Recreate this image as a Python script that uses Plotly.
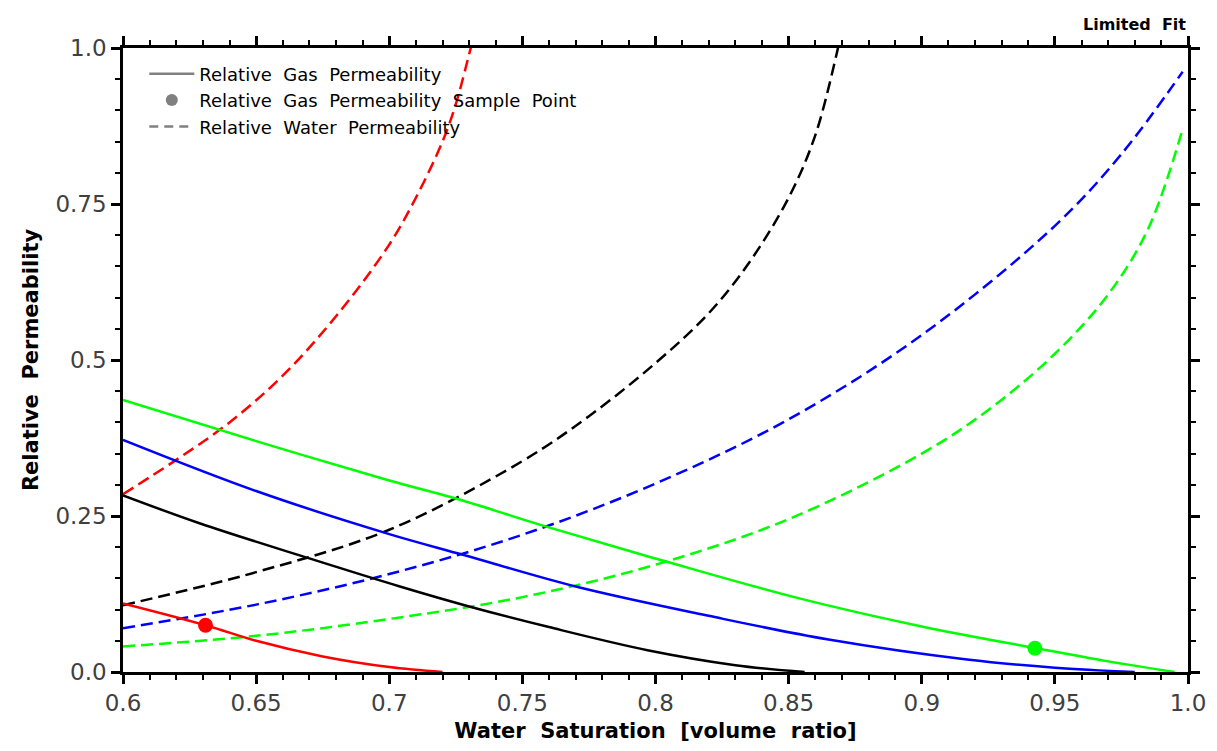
import plotly.graph_objects as go

# Relative gas permeability (solid)
gas_red_x = [0.6, 0.631, 0.65, 0.675, 0.70, 0.72]
gas_red_y = [0.11, 0.075, 0.05, 0.025, 0.008, 0.0]
gas_black_x = [0.6, 0.629, 0.67, 0.704, 0.73, 0.76, 0.797, 0.83, 0.856]
gas_black_y = [0.283, 0.238, 0.182, 0.137, 0.105, 0.072, 0.035, 0.011, 0.0]
gas_blue_x = [0.6, 0.65, 0.7, 0.728, 0.77, 0.82, 0.865, 0.917, 0.95, 0.98]
gas_blue_y = [0.372, 0.29, 0.221, 0.1875, 0.137, 0.09, 0.052, 0.020, 0.007, 0.0]
gas_green_x = [0.6, 0.65, 0.7, 0.725, 0.759, 0.804, 0.854, 0.9, 0.943, 0.97, 0.995]
gas_green_y = [0.436, 0.37, 0.307, 0.278, 0.233, 0.177, 0.118, 0.073, 0.038, 0.017, 0.0]

# Relative water permeability (dashed)
wat_red_x = [0.6, 0.62, 0.64, 0.66, 0.68, 0.70, 0.71, 0.72, 0.725, 0.73, 0.7312]
wat_red_y = [0.285, 0.34, 0.40, 0.475, 0.57, 0.685, 0.76, 0.85, 0.91, 0.99, 1.01]
wat_black_x = [0.6, 0.65, 0.7, 0.75, 0.775, 0.80, 0.82, 0.835, 0.85, 0.86, 0.868, 0.869]
wat_black_y = [0.107, 0.16, 0.228, 0.338, 0.41, 0.495, 0.575, 0.655, 0.76, 0.86, 0.99, 1.01]
wat_blue_x = [0.6, 0.65, 0.7, 0.75, 0.8, 0.85, 0.9, 0.95, 0.975, 0.998]
wat_blue_y = [0.07, 0.108, 0.157, 0.22, 0.302, 0.405, 0.54, 0.715, 0.83, 0.962]
wat_green_x = [0.6, 0.65, 0.7, 0.75, 0.8, 0.85, 0.9, 0.925, 0.95, 0.97, 0.985, 0.998]
wat_green_y = [0.041, 0.058, 0.085, 0.12, 0.172, 0.245, 0.35, 0.42, 0.51, 0.605, 0.71, 0.87]

# Sample points
sample_x = [0.631, 0.9425]
sample_y = [0.075, 0.038]
sample_colors = ["#ff0000", "#00ff00"]

x_tickvals = [0.6, 0.65, 0.7, 0.75, 0.8, 0.85, 0.9, 0.95, 1.0]
x_ticktext = ["0.6", "0.65", "0.7", "0.75", "0.8", "0.85", "0.9", "0.95", "1.0"]
y_tickvals = [0.0, 0.25, 0.5, 0.75, 1.0]
y_ticktext = ["0.0", "0.25", "0.5", "0.75", "1.0"]

DASH = "12px,6px"
LW = 2.5

fig = go.Figure()

gas = [(gas_red_x, gas_red_y, "#ff0000"), (gas_black_x, gas_black_y, "#000000"),
       (gas_blue_x, gas_blue_y, "#0000ff"), (gas_green_x, gas_green_y, "#00ff00")]
wat = [(wat_red_x, wat_red_y, "#ff0000"), (wat_black_x, wat_black_y, "#000000"),
       (wat_blue_x, wat_blue_y, "#0000ff"), (wat_green_x, wat_green_y, "#00ff00")]

for xs, ys, c in wat:
    fig.add_trace(go.Scatter(x=xs, y=ys, mode="lines", line=dict(color=c, width=LW, dash=DASH, shape="spline", smoothing=1.0),
                             showlegend=False, hoverinfo="skip"))
for xs, ys, c in gas:
    fig.add_trace(go.Scatter(x=xs, y=ys, mode="lines", line=dict(color=c, width=LW, shape="spline"),
                             showlegend=False, hoverinfo="skip"))

fig.add_trace(go.Scatter(x=sample_x, y=sample_y, mode="markers",
                         marker=dict(color=sample_colors, size=15), showlegend=False, cliponaxis=False))

# Legend entries (gray)
fig.add_trace(go.Scatter(x=[None], y=[None], mode="lines", line=dict(color="#808080", width=2.5),
                         name="Relative  Gas  Permeability"))
fig.add_trace(go.Scatter(x=[None], y=[None], mode="markers", marker=dict(color="#808080", size=12),
                         name="Relative  Gas  Permeability  Sample  Point"))
fig.add_trace(go.Scatter(x=[None], y=[None], mode="lines", line=dict(color="#808080", width=2.5, dash="9px,6px"),
                         name="Relative  Water  Permeability"))

axis_common = dict(
    showline=True, linecolor="black", linewidth=2.5, mirror="ticks",
    ticks="outside", ticklen=9, tickwidth=2.5, tickcolor="black",
    showgrid=False, zeroline=False,
    tickfont=dict(family="DejaVu Sans", size=23, color="#404040"),
)

fig.update_xaxes(range=[0.6, 1.0], tickvals=x_tickvals, ticktext=x_ticktext,
                 minor=dict(dtick=0.01, ticks="outside", ticklen=5, tickwidth=1.5, tickcolor="black"),
                 title=dict(text="Water  Saturation  [volume  ratio]",
                            font=dict(family="DejaVu Sans", size=21, color="black", weight="bold"), standoff=8),
                 **axis_common)
fig.update_yaxes(range=[0.0, 1.0], tickvals=y_tickvals, ticktext=y_ticktext,
                 minor=dict(dtick=0.05, ticks="outside", ticklen=5, tickwidth=1.5, tickcolor="black"),
                 title=dict(text="Relative  Permeability",
                            font=dict(family="DejaVu Sans", size=21, color="black", weight="bold"), standoff=12),
                 **axis_common)

fig.add_annotation(text="<b>Limited  Fit</b>", xref="paper", yref="paper", x=1.0, y=1.0,
                   xanchor="right", yanchor="bottom", yshift=12, showarrow=False,
                   font=dict(family="DejaVu Sans", size=16, color="black"))

fig.update_layout(
    width=1217, height=751,
    margin=dict(l=123, r=29, t=48, b=79),
    paper_bgcolor="white", plot_bgcolor="white",
    legend=dict(x=0.02, y=0.988, xanchor="left", yanchor="top", bgcolor="rgba(0,0,0,0)",
                font=dict(family="DejaVu Sans", size=18, color="black"), tracegroupgap=0,
                itemwidth=45),
    showlegend=True,
)

fig.write_html("out.html")
